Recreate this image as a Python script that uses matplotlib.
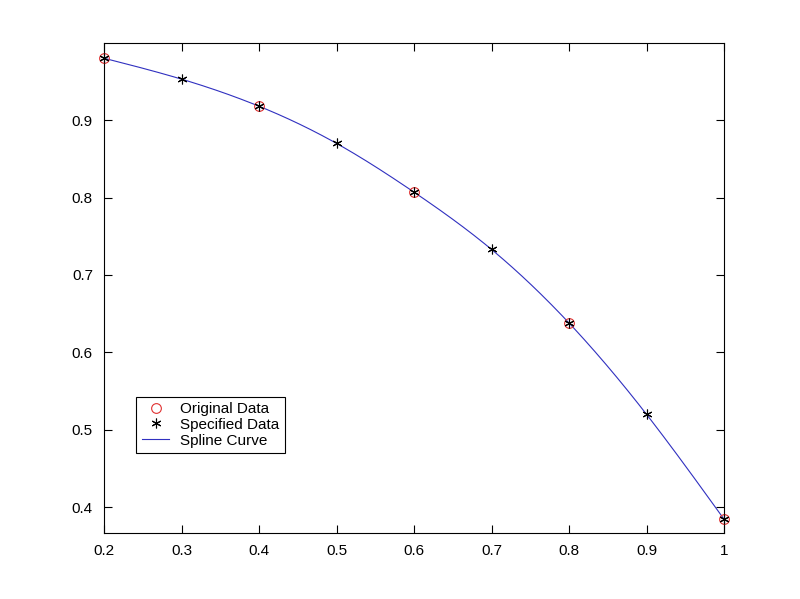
import numpy as np
import matplotlib
matplotlib.use("Agg")
import matplotlib.pyplot as plt

plt.rcParams['font.family'] = ['Liberation Sans', 'DejaVu Sans']

orig_x = [0.2, 0.4, 0.6, 0.8, 1.0]
orig_y = [0.980, 0.918, 0.807, 0.638, 0.3845]
spec_x = [0.2, 0.3, 0.4, 0.5, 0.6, 0.7, 0.8, 0.9, 1.0]
spec_y = [0.980, 0.953, 0.918, 0.870, 0.807, 0.733, 0.638, 0.520, 0.3845]
xticks = [0.2, 0.3, 0.4, 0.5, 0.6, 0.7, 0.8, 0.9, 1.0]
xticklabels = ['0.2', '0.3', '0.4', '0.5', '0.6', '0.7', '0.8', '0.9', '1']
yticks = [0.4, 0.5, 0.6, 0.7, 0.8, 0.9]
yticklabels = ['0.4', '0.5', '0.6', '0.7', '0.8', '0.9']


def natural_cubic_spline(x, y, xs):
    x = np.asarray(x, float); y = np.asarray(y, float)
    n = len(x)
    h = np.diff(x)
    A = np.zeros((n, n)); b = np.zeros(n)
    A[0, 0] = 1; A[-1, -1] = 1
    for i in range(1, n - 1):
        A[i, i - 1] = h[i - 1]
        A[i, i] = 2 * (h[i - 1] + h[i])
        A[i, i + 1] = h[i]
        b[i] = 3 * ((y[i + 1] - y[i]) / h[i] - (y[i] - y[i - 1]) / h[i - 1])
    c = np.linalg.solve(A, b)
    bb = (np.diff(y) / h) - h * (2 * c[:-1] + c[1:]) / 3
    d = np.diff(c) / (3 * h)
    idx = np.clip(np.searchsorted(x, xs) - 1, 0, n - 2)
    dx = xs - x[idx]
    return y[idx] + bb[idx] * dx + c[idx] * dx**2 + d[idx] * dx**3


xs = np.linspace(spec_x[0], spec_x[-1], 400)
ys = natural_cubic_spline(spec_x, spec_y, xs)

fig = plt.figure(figsize=(8.0, 5.99), dpi=100)
ax = fig.add_axes([0.13, 0.11, 0.775, 0.818])

ax.plot(orig_x, orig_y, 'o', mfc='none', mec='#e03030', ms=7, mew=0.8,
        label='Original Data', clip_on=False, zorder=3)
ax.plot(spec_x, spec_y, linestyle='none', marker=(6, 2, 0), color='black', ms=7, mew=0.8,
        label='Specified Data', clip_on=False, zorder=4)
ax.plot(xs, ys, '-', color='#3030c0', lw=0.8, label='Spline Curve', zorder=2)

ax.set_xlim(0.2, 1.0)
ax.set_ylim(0.3665, 0.9995)
ax.set_xticks(xticks)
ax.set_xticklabels(xticklabels)
ax.set_yticks(yticks)
ax.set_yticklabels(yticklabels)
ax.tick_params(direction='in', top=True, right=True, length=6, width=0.8, labelsize=11, pad=8)
for s in ax.spines.values():
    s.set_linewidth(0.8)

leg = ax.legend(loc='lower left', bbox_to_anchor=(0.040, 0.148), fancybox=False,
                edgecolor='black', framealpha=1, fontsize=11, borderpad=0.35,
                labelspacing=0.12, handlelength=1.8, handletextpad=0.7)
leg.get_frame().set_linewidth(0.8)

fig.savefig('out.png', dpi=100)
